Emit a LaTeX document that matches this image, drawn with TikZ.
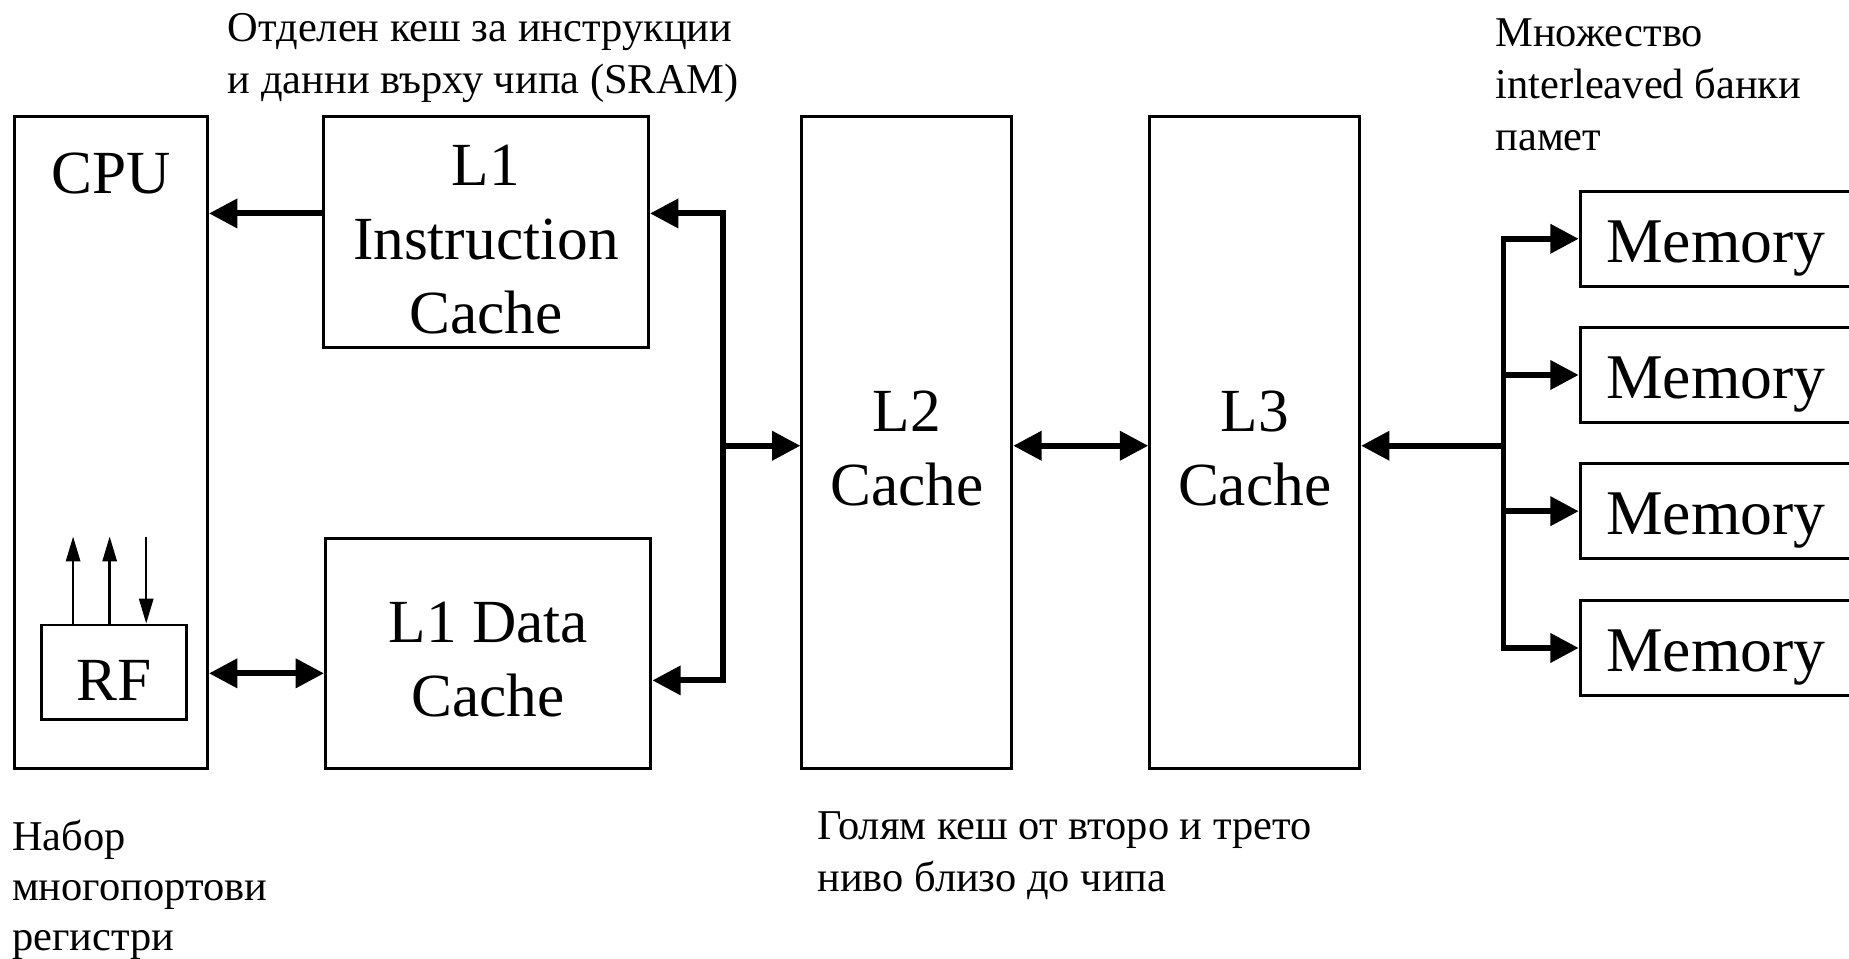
\documentclass[tikz,border=0pt]{standalone}
\usepackage{fontspec}
\setmainfont{Liberation Serif}
\usetikzlibrary{arrows.meta,calc}
\begin{document}
\begin{tikzpicture}[x=1pt,y=-1pt,
  box/.style={draw,line width=2.5pt,inner sep=0pt},
  lab/.style={inner sep=0pt,align=center,font=\fontsize{52}{63}\selectfont},
  bus/.style={line width=5pt,line join=miter},
  bigtip/.tip={Triangle[length=24pt,width=24pt]},
  thin/.style={line width=2pt},
  smalltip/.tip={Triangle[length=21pt,width=12pt]},
  note/.style={inner sep=0pt,anchor=north west,align=left,font=\fontsize{36}{44}\selectfont}]
\useasboundingbox (0,0) rectangle (1568,813);
% boxes
\node[box,minimum width=164pt,minimum height=553pt] (cpu) at (94,375.5) {};
\node[lab] (cpulab) at (94,147) {CPU};
\node[box,minimum width=276pt,minimum height=196pt] (l1i) at (412,197) {};
\node[lab] (l1ilab) at ([yshift=-6pt]l1i.center) {L1\\Instruction\\Cache};
\node[box,minimum width=276pt,minimum height=195pt] (l1d) at (414,554.5) {};
\node[lab] (l1dlab) at ([yshift=-5pt]l1d.center) {L1 Data\\Cache};
\node[box,minimum width=178pt,minimum height=553pt] (l2) at (769,375.5) {};
\node[lab] (l2lab) at ([yshift=-5pt]l2.center) {L2\\Cache};
\node[box,minimum width=178pt,minimum height=553pt] (l3) at (1064,375.5) {};
\node[lab] (l3lab) at ([yshift=-5pt]l3.center) {L3\\Cache};
\node[box,minimum width=123pt,minimum height=80pt] (rf) at (96.5,570) {};
\node[lab] (rflab) at ([yshift=-7pt]rf.center) {RF};
\node[box,minimum width=230pt,minimum height=81pt] (m1) at (1455,202.5) {};
\node[box,minimum width=230pt,minimum height=80pt] (m2) at (1455,318) {};
\node[box,minimum width=230pt,minimum height=81pt] (m3) at (1455,433.5) {};
\node[box,minimum width=230pt,minimum height=81pt] (m4) at (1455,549.5) {};
\foreach \m in {m1,m2,m3,m4}
  \node[lab,font=\fontsize{54}{63}\selectfont] (\m lab) at ([yshift=-8pt]\m.center) {Memory};
% helper coordinates
\coordinate (yI) at (0,181);
\coordinate (yD) at (0,577);
\coordinate (yR) at (0,571);
\coordinate (yM) at (0,378);
\coordinate (bj) at (613,0);
\coordinate (bx) at (1275,0);
\coordinate (yT) at (0,455);
% thick connectors
\draw[bus,-bigtip] (l1i.west |- yI) -- (cpu.east |- yI);
\draw[bus,bigtip-bigtip] (l1i.east |- yI) -| (bj |- yD) -- (l1d.east |- yD);
\draw[bus,-bigtip] (bj |- yM) -- (l2.west |- yM);
\draw[bus,bigtip-bigtip] (cpu.east |- yR) -- (l1d.west |- yR);
\draw[bus,bigtip-bigtip] (l2.east |- yM) -- (l3.west |- yM);
\draw[bus,-bigtip] (bx |- yM) -- (l3.east |- yM);
\draw[bus,bigtip-bigtip] (m1.west) -| (bx |- m4.west) -- (m4.west);
\draw[bus,-bigtip] (bx |- m2.west) -- (m2.west);
\draw[bus,-bigtip] (bx |- m3.west) -- (m3.west);
% RF ports
\coordinate (p1) at (62,0);
\coordinate (p2) at (93,0);
\coordinate (p3) at (124,0);
\draw[thin,-smalltip] (rf.north -| p1) -- (p1 |- yT);
\draw[thin,-smalltip] (rf.north -| p2) -- (p2 |- yT);
\draw[thin,-smalltip] (p3 |- yT) -- (rf.north -| p3);
% notes
\node[note] (n1) at (193,11) {Отделен кеш за инструкции\\и данни върху чипа (SRAM)};
\node[note] (n2) at (1268,16) {Множество\\interleaved банки\\памет};
\node[note,font=\fontsize{36}{42.5}\selectfont] (n3) at (10,695) {Набор\\многопортови\\регистри};
\node[note] (n4) at (693,688) {Голям кеш от второ и трето\\ниво близо до чипа};
\end{tikzpicture}
\end{document}
